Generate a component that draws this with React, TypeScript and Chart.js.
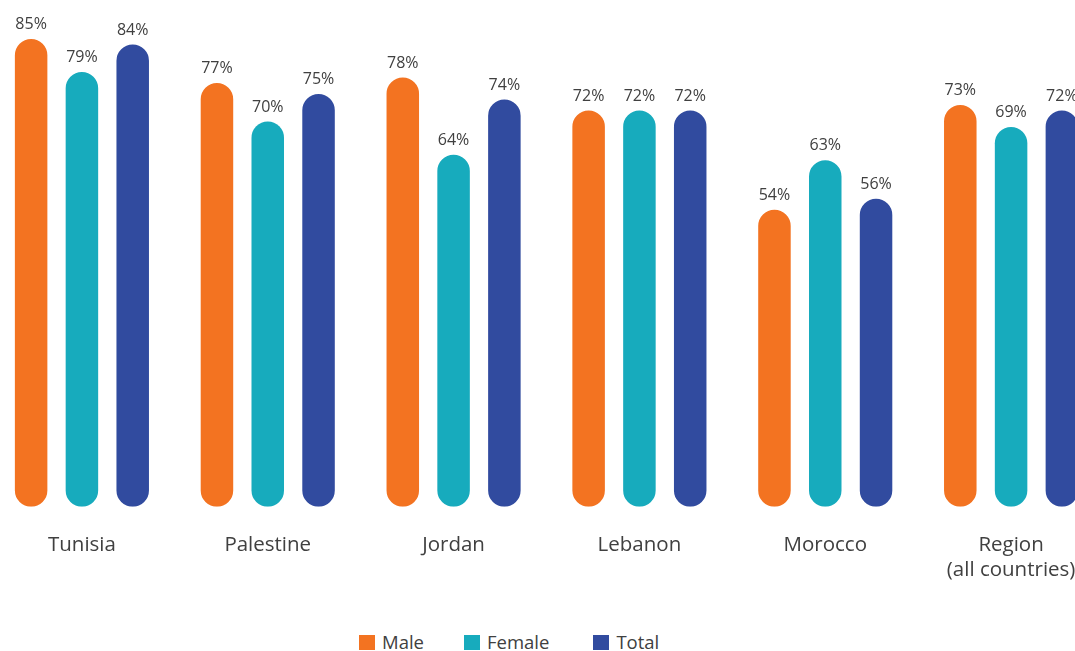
import React, { useEffect, useRef } from "react";
import { Chart, registerables } from "chart.js";

Chart.register(...registerables);

const categories: (string | string[])[] = [
  "Tunisia",
  "Palestine",
  "Jordan",
  "Lebanon",
  "Morocco",
  ["Region", "(all countries)"],
];
const seriesNames = ["Male", "Female", "Total"];
const seriesColors = ["#F37321", "#17ABBD", "#314B9F"];
const maleValues = [85, 77, 78, 72, 54, 73];
const femaleValues = [79, 70, 64, 72, 63, 69];
const totalValues = [84, 75, 74, 72, 56, 72];

const FONT = "'Open Sans', 'Noto Sans', sans-serif";
const TEXT = "#404040";

const valueLabels = {
  id: "valueLabels",
  afterDatasetsDraw(chart: any) {
    const ctx = chart.ctx;
    ctx.save();
    ctx.font = `16px ${FONT}`;
    ctx.fillStyle = TEXT;
    ctx.textAlign = "center";
    ctx.textBaseline = "alphabetic";
    chart.data.datasets.forEach((ds: any, i: number) => {
      const meta = chart.getDatasetMeta(i);
      meta.data.forEach((el: any, j: number) => {
        ctx.fillText(`${ds.data[j]}%`, el.x, el.y - 10);
      });
    });
    ctx.restore();
  },
};

export default function App() {
  const ref = useRef<HTMLCanvasElement | null>(null);
  useEffect(() => {
    if (!ref.current) return;
    const values = [maleValues, femaleValues, totalValues];
    const chart = new Chart(ref.current, {
      type: "bar",
      data: {
        labels: categories as any,
        datasets: seriesNames.map((name, i) => ({
          label: name,
          data: values[i],
          backgroundColor: seriesColors[i],
          borderRadius: 999,
          borderSkipped: false,
          categoryPercentage: 0.82,
          barPercentage: 0.64,
        })),
      },
      options: {
        animation: false,
        responsive: false,
        layout: { padding: { top: 0, left: 0, right: 0, bottom: 19 } },
        plugins: {
          legend: { display: false },
          tooltip: { enabled: false },
        },
        scales: {
          x: {
            grid: { display: false, drawTicks: false },
            border: { display: false },
            ticks: {
              color: TEXT,
              font: { family: FONT, size: 20.5, lineHeight: 1.2 },
              padding: 26,
              autoSkip: false,
              maxRotation: 0,
            },
          },
          y: { display: false, min: 0, max: 92.1 },
        },
      },
      plugins: [valueLabels],
    });
    return () => chart.destroy();
  }, []);

  const legendItem = (name: string, color: string, i: number) => (
    <div key={name} style={{ display: "flex", alignItems: "center", marginLeft: i === 0 ? 0 : i === 1 ? 40 : 44 }}>
      <div style={{ width: 16, height: 15, background: color, marginRight: 7 }} />
      <span style={{ fontFamily: FONT, fontSize: 18.5, color: TEXT, lineHeight: "20px" }}>{name}</span>
    </div>
  );

  return (
    <div
      style={{
        position: "fixed",
        left: 0,
        top: 0,
        width: 1075,
        height: 651,
        overflow: "hidden",
        background: "#fff",
      }}
    >
      <canvas
        ref={ref}
        width={1115}
        height={627}
        style={{ position: "absolute", left: -11, top: 0 }}
      />
      <div
        style={{
          position: "absolute",
          left: 359,
          top: 632,
          display: "flex",
        }}
      >
        {seriesNames.map((n, i) => legendItem(n, seriesColors[i], i))}
      </div>
    </div>
  );
}
